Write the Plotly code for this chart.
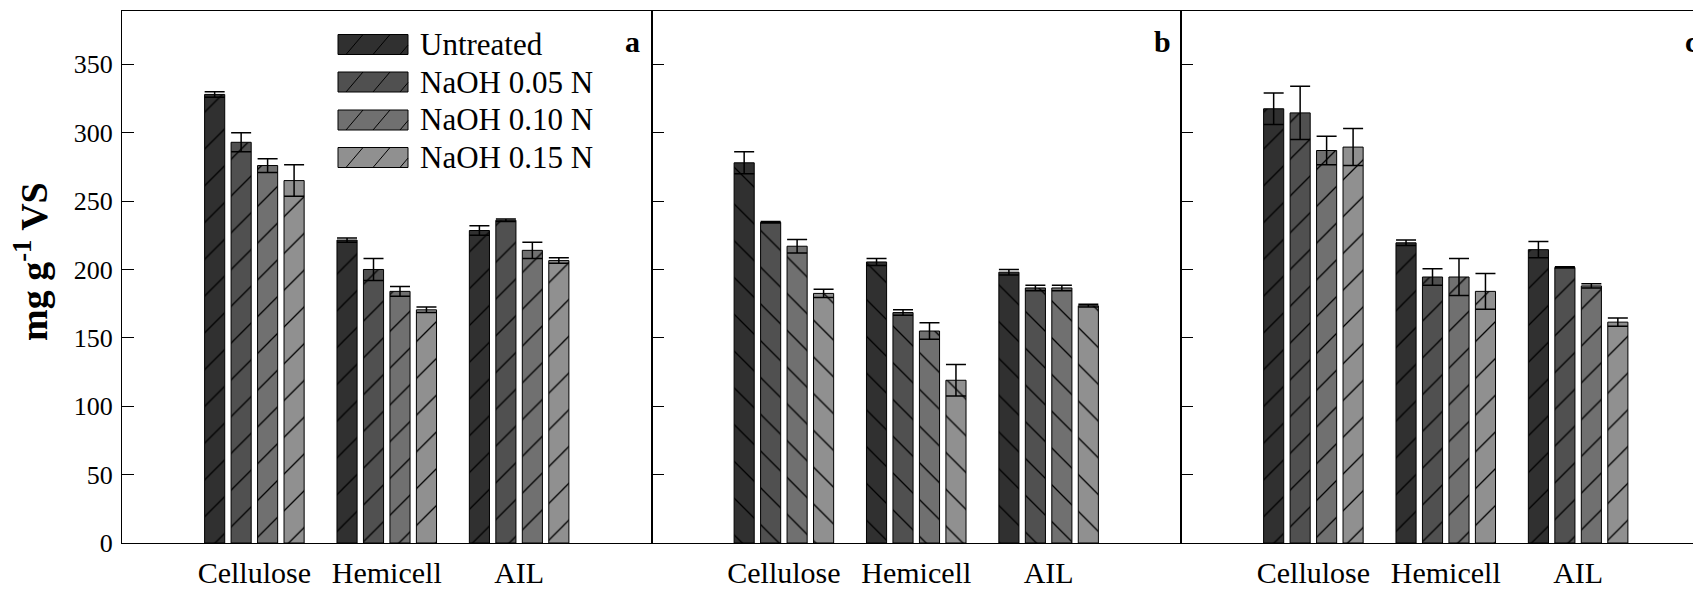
import plotly.graph_objects as go

W, H = 1693, 591

components = ["Cellulose", "Hemicell", "AIL"]
treatments = ["Untreated", "NaOH 0.05 N", "NaOH 0.10 N", "NaOH 0.15 N"]
fills = ["#303030", "#505050", "#707070", "#909090"]
y_ticks = [0, 50, 100, 150, 200, 250, 300, 350]

# mg g-1 VS, one list per treatment (Cellulose, Hemicell, AIL)
a_means = [[328, 221.5, 228.5], [293, 200, 236], [276, 184, 214], [265, 170.5, 206.5]]
a_errs = [[2, 1.5, 3.5], [7, 8, 1], [5, 3.5, 6], [11.5, 2, 2]]

b_means = [[278, 205.5, 198], [234.5, 168.5, 186.5], [217, 155, 186.5], [182.5, 119, 173.5]]
b_errs = [[8, 2.5, 2], [0.5, 2, 2], [5, 6, 2], [3, 11.5, 1]]

c_means = [[317.5, 219.5, 214.5], [314.5, 194.5, 201.5], [287, 194.5, 188], [289.5, 184, 161.5]]
c_errs = [[11.5, 2, 6], [19.5, 6, 0.5], [10.5, 13.5, 1.5], [13.5, 13, 3]]

panel_labels = ["a", "b", "c"]
hatches = ["/", "\\", "/"]

SERIF = "Liberation Serif"

# pixel geometry of the three panels
PLOT_TOP, PLOT_BOTTOM = 11, 543
PANEL_W = 529.5
panel_left = [122, 122 + PANEL_W, 122 + 2 * PANEL_W]


def px_x(px):
    return px / W


def px_y(py):
    return 1 - py / H


fig = go.Figure()

panels = [(a_means, a_errs), (b_means, b_errs), (c_means, c_errs)]
for p, (means, errs) in enumerate(panels):
    xa = "x" if p == 0 else f"x{p + 1}"
    ya = "y" if p == 0 else f"y{p + 1}"
    for t, name in enumerate(treatments):
        fig.add_trace(go.Bar(
            x=components, y=means[t], name=name,
            xaxis=xa, yaxis=ya, showlegend=False,
            marker=dict(
                color=fills[t],
                line=dict(color="black", width=1),
                pattern=dict(shape=hatches[p], fgcolor="black", bgcolor=fills[t],
                             fgopacity=1, size=26, solidity=0.05),
            ),
            error_y=dict(type="data", array=errs[t], visible=True,
                         color="black", thickness=1.5, width=10),
        ))

layout = dict(
    width=W, height=H, autosize=False,
    margin=dict(l=0, r=0, t=0, b=0, pad=0, autoexpand=False),
    paper_bgcolor="white", plot_bgcolor="white",
    barmode="group", bargap=0.2, bargroupgap=0.24,
    showlegend=False,
    font=dict(family=SERIF, color="black"),
)

y_dom = [px_y(PLOT_BOTTOM), px_y(PLOT_TOP)]
y_max = 389

for p in range(3):
    key = "" if p == 0 else str(p + 1)
    left = panel_left[p]
    right = min(left + PANEL_W, W)
    span = 4 * (right - left) / PANEL_W
    layout[f"xaxis{key}"] = dict(
        domain=[px_x(left), px_x(right)],
        range=[-1, -1 + span],
        type="category",
        showline=True, linecolor="black", linewidth=1.3, mirror=True,
        showgrid=False, zeroline=False, automargin=False,
        ticks="", ticklabelstandoff=3,
        tickfont=dict(family=SERIF, size=30, color="black"),
        anchor="y" if p == 0 else f"y{p + 1}",
    )
    layout[f"yaxis{key}"] = dict(
        domain=y_dom,
        range=[0, y_max],
        showline=True, linecolor="black", linewidth=1,
        mirror=(p < 2),
        showgrid=False, zeroline=False, automargin=False,
        ticks="inside", ticklen=12, tickcolor="black", tickwidth=1,
        tickvals=y_ticks, showticklabels=(p == 0),
        ticklabelstandoff=3,
        tickfont=dict(family=SERIF, size=26, color="black"),
        anchor="x" if p == 0 else f"x{p + 1}",
    )

fig.update_layout(**layout)

annotations = []
shapes = []

# panel letters
for p, lab in enumerate(panel_labels):
    annotations.append(dict(
        text=f"<b>{lab}</b>", xref="paper", yref="paper",
        x=px_x(panel_left[p] + PANEL_W - 19), y=px_y(42),
        xanchor="center", yanchor="middle", showarrow=False,
        font=dict(family=SERIF, size=30, color="black"),
    ))

# y-axis title
annotations.append(dict(
    text="<b>mg g<sup>-1</sup> VS</b>", xref="paper", yref="paper",
    x=px_x(31), y=px_y(262), textangle=-90,
    xanchor="center", yanchor="middle", showarrow=False,
    font=dict(family=SERIF, size=38, color="black"),
))

# legend key inside panel a
sw_x0, sw_x1, sw_h = 338, 408, 20
row_y = [44.5, 82, 120, 157.5]
for t, name in enumerate(treatments):
    cy = row_y[t]
    y0, y1 = cy - sw_h / 2, cy + sw_h / 2
    shapes.append(dict(
        type="rect", xref="paper", yref="paper",
        x0=px_x(sw_x0), x1=px_x(sw_x1), y0=px_y(y1), y1=px_y(y0),
        fillcolor=fills[t], line=dict(color="black", width=1),
    ))
    for k in range(3):
        bx = sw_x0 + 8 + 27 * k
        tx = bx + 17
        if tx > sw_x1:
            ty = y1 - (sw_x1 - bx) * sw_h / 17
            tx = sw_x1
        else:
            ty = y0
        shapes.append(dict(
            type="line", xref="paper", yref="paper",
            x0=px_x(bx), y0=px_y(y1), x1=px_x(tx), y1=px_y(ty),
            line=dict(color="black", width=1),
        ))
    annotations.append(dict(
        text=name, xref="paper", yref="paper",
        x=px_x(418), y=px_y(cy), xanchor="left", yanchor="middle",
        showarrow=False, font=dict(family=SERIF, size=31, color="black"),
    ))

fig.update_layout(annotations=annotations, shapes=shapes)

fig.write_html("out.html")
